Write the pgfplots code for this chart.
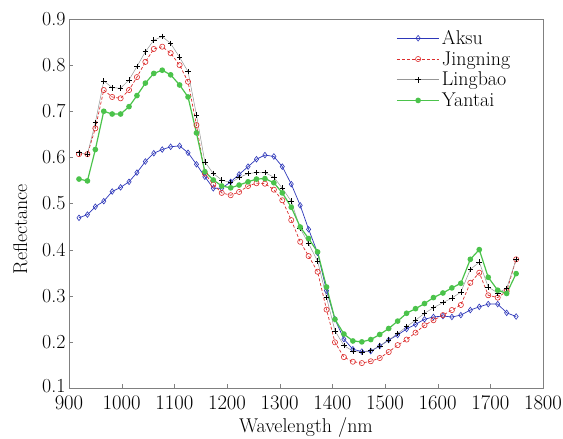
\documentclass[border=0pt]{standalone}
\usepackage{pgfplots}
\usepackage{pgfplotstable}
\pgfplotsset{compat=1.18}
\definecolor{cblue}{RGB}{45,55,185}
\definecolor{cred}{RGB}{220,45,45}
\definecolor{cgray}{RGB}{150,150,150}
\definecolor{cgreen}{RGB}{75,195,75}
\pgfplotstableread{
wl aksu jing ling yant
919 0.469 0.607 0.610 0.553
935 0.476 0.607 0.607 0.549
950 0.493 0.663 0.675 0.617
966 0.505 0.746 0.766 0.700
982 0.526 0.731 0.751 0.694
998 0.535 0.728 0.750 0.694
1014 0.547 0.746 0.768 0.710
1029 0.567 0.774 0.797 0.734
1045 0.591 0.807 0.829 0.761
1061 0.609 0.835 0.854 0.782
1077 0.617 0.840 0.862 0.789
1093 0.623 0.826 0.847 0.779
1110 0.625 0.800 0.817 0.757
1126 0.610 0.764 0.786 0.731
1142 0.585 0.670 0.692 0.653
1158 0.558 0.565 0.590 0.569
1174 0.533 0.541 0.565 0.551
1190 0.533 0.523 0.551 0.538
1207 0.547 0.518 0.545 0.534
1223 0.563 0.525 0.556 0.540
1240 0.580 0.538 0.565 0.547
1256 0.596 0.544 0.567 0.553
1272 0.605 0.543 0.567 0.554
1289 0.602 0.530 0.557 0.545
1305 0.580 0.507 0.533 0.523
1322 0.542 0.464 0.505 0.492
1339 0.496 0.417 0.446 0.449
1355 0.444 0.386 0.413 0.424
1372 0.393 0.352 0.375 0.395
1389 0.311 0.270 0.296 0.319
1405 0.249 0.199 0.224 0.249
1422 0.206 0.167 0.192 0.217
1439 0.184 0.157 0.180 0.202
1456 0.179 0.154 0.177 0.200
1473 0.180 0.158 0.181 0.205
1490 0.191 0.165 0.191 0.216
1507 0.204 0.178 0.204 0.229
1524 0.215 0.193 0.218 0.245
1541 0.228 0.205 0.233 0.262
1558 0.238 0.220 0.247 0.272
1575 0.249 0.236 0.262 0.283
1592 0.254 0.247 0.274 0.296
1610 0.256 0.258 0.285 0.306
1627 0.254 0.269 0.295 0.317
1644 0.258 0.280 0.308 0.327
1662 0.269 0.328 0.357 0.379
1679 0.276 0.350 0.373 0.400
1696 0.282 0.301 0.319 0.340
1714 0.282 0.296 0.306 0.312
1731 0.263 0.310 0.316 0.305
1749 0.255 0.379 0.379 0.348
}\datatable
\begin{document}
\begin{tikzpicture}
\begin{axis}[
  scale only axis,
  width=474bp, height=369bp,
  xmin=900, xmax=1800, ymin=0.1, ymax=0.9,
  xtick={900,1000,...,1800},
  ytick={0.1,0.2,0.3,0.4,0.5,0.6,0.7,0.8,0.9},
  yticklabels={\raisebox{5bp}{0.1},0.2,0.3,0.4,0.5,0.6,0.7,0.8,0.9},
  xticklabel style={/pgf/number format/set thousands separator={}, yshift=-5bp},
  tick label style={font=\fontsize{20}{22}\selectfont},
  label style={font=\fontsize{20}{22}\selectfont},
  xlabel={Wavelength /nm},
  ylabel={Reflectance},
  xlabel style={at={(axis description cs:0.5,-0.108)}, anchor=center},
  ylabel style={at={(axis description cs:-0.103,0.43)}, anchor=center},
  tick align=inside,
  xtick pos=bottom, ytick pos=left,
  major tick length=4bp,
  axis line style={draw=gray},
  tick style={draw=gray},
  legend style={draw=none, fill=none, at={(0.69,0.975)}, anchor=north west,
    font=\fontsize{20}{22}\selectfont, row sep=1.5bp, inner sep=0pt},
  legend cell align=left,
  legend image code/.code={\draw[mark repeat=2,mark phase=2,#1] plot coordinates {(0cm,0cm) (0.75cm,0cm) (1.5cm,0cm)};},
]
\addplot[cblue, line width=0.7bp, mark=diamond, mark size=2.8bp, mark options={solid, line width=0.6bp}] table[x=wl,y=aksu] {\datatable};
\addlegendentry{Aksu}
\addplot[cred, line width=0.7bp, densely dashed, mark=o, mark size=2.6bp, mark options={solid, line width=0.6bp}] table[x=wl,y=jing] {\datatable};
\addlegendentry{Jingning}
\addplot[cgray, line width=0.5bp, mark=+, mark size=2.8bp, mark options={black, solid, line width=0.6bp}] table[x=wl,y=ling] {\datatable};
\addlegendentry{Lingbao}
\addplot[cgreen, line width=1.2bp, mark=*, mark size=2.2bp, mark options={solid, fill=cgreen, draw=cgreen}] table[x=wl,y=yant] {\datatable};
\addlegendentry{Yantai}
\end{axis}
\pgfresetboundingbox
\path (current axis.south west) ++(-69bp,-51bp) rectangle ++(563bp,439bp);
\end{tikzpicture}
\end{document}
